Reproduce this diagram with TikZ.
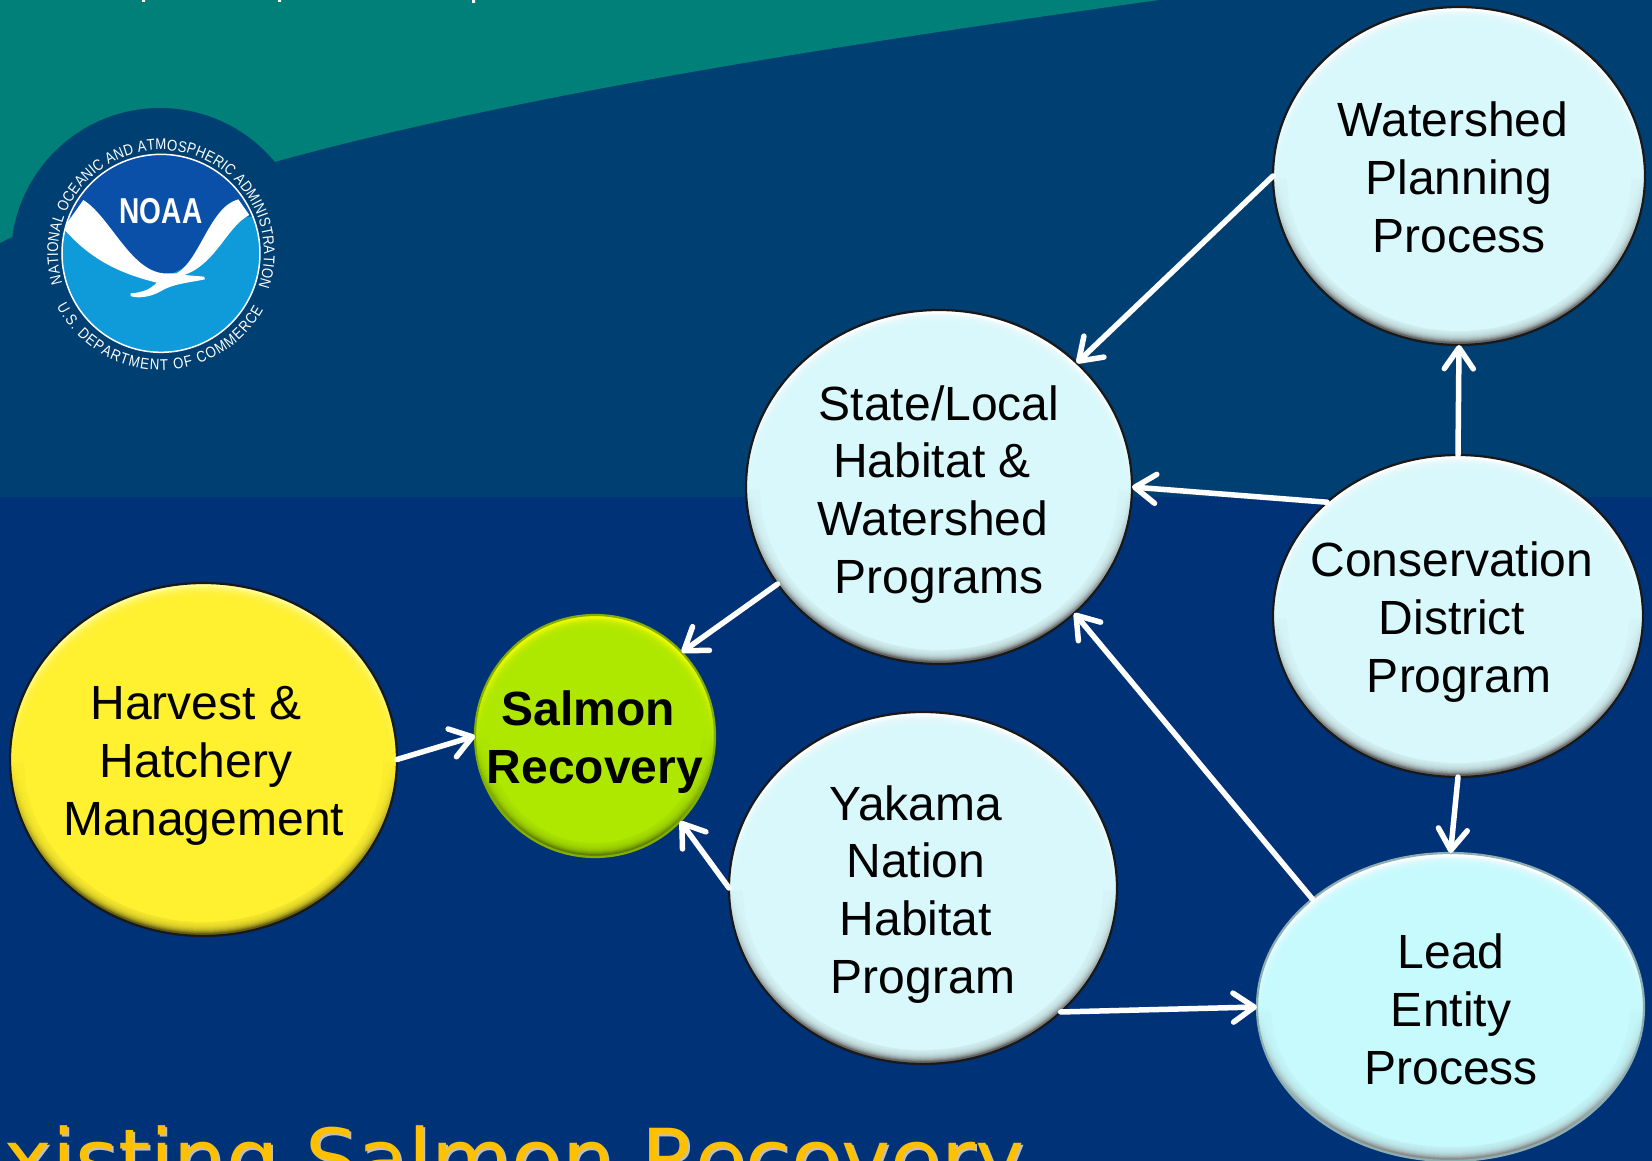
\documentclass[tikz,border=0pt]{standalone}
\usepackage{fontspec}
\setmainfont{Liberation Sans}
\newfontfamily\titlefont{DejaVu Sans}
\newfontfamily\logoface[FakeStretch=0.85]{Liberation Sans}
\usetikzlibrary{shapes.geometric,arrows.meta,decorations.text}
\definecolor{teal0}{HTML}{008078}
\definecolor{navytop}{HTML}{003F72}
\definecolor{navylow}{HTML}{003278}
\definecolor{cyanbase}{HTML}{D9F8FB}
\definecolor{leadbase}{HTML}{C6FAFD}
\definecolor{yellowbase}{HTML}{FFF030}
\definecolor{greenbase}{HTML}{AEE800}
\definecolor{goldtitle}{HTML}{FFC000}
\definecolor{logodark}{HTML}{0A4FA8}
\definecolor{logolight}{HTML}{0F9ADA}
\newcommand\nudge[2]{\mbox{\ifdim#1>0pt\kern\dimexpr#1*2\relax\fi #2\ifdim#1<0pt\kern\dimexpr#1*-2\relax\fi}}
\newcommand\logofont{\logoface\fontsize{15.5}{16}\selectfont}
% name, cx, cy, rx, ry, base, rim top, rim bottom, outline
\newcommand\bubble[9]{%
  \pgfdeclareverticalshading{rim#1}{100bp}{color(0bp)=(#8); color(28bp)=(#8);
     color(50bp)=(#6); color(68bp)=(#7); color(100bp)=(#7)}%
  \node[bubblenode,minimum width=#4*2pt,minimum height=#5*2pt,
        shading=rim#1,draw=#9] (#1) at (#2,#3) {};
  \foreach \i in {3,...,13}{
    \fill[#6,opacity=.22] (#1.center) ellipse [x radius={(#4-\i)*1pt},y radius={(#5-\i)*1pt}];
  }
  \fill[#6] (#1.center) ellipse [x radius={(#4-14)*1pt},y radius={(#5-14)*1pt}];
}
\tikzset{
  bubblenode/.style={ellipse,inner sep=0pt,outer sep=0pt,line width=2.2pt},
  bubbletext/.style={anchor=base,align=center,inner sep=0pt,outer sep=0pt,text=black,
     font=\fontsize{48}{57.6}\selectfont},
  flow/.style={draw=white,line width=5.5pt,line cap=round,
     -{Straight Barb[length=21pt,width=29pt,line width=5.5pt,round]}},
  titletext/.style={anchor=base west,inner sep=0pt,font=\titlefont\fontsize{82.7}{86}\selectfont},
}
\begin{document}
\begin{tikzpicture}[x=1pt,y=-1pt]
\useasboundingbox (0,0) rectangle (1652,1161);
\clip (0,0) rectangle (1652,1161);
% background bands
\fill[navytop] (0,0) rectangle (1652,497);
\fill[navylow] (0,497) rectangle (1652,1161);
\fill[teal0] (0,0) -- (1159,0) .. controls (800,50) and (500,100) .. (278,161) -- (10,238) -- (0,243) -- cycle;
\fill[white] (142,0) rectangle (145,2) (278,0) rectangle (281,2) (472,0) rectangle (475,3);
% logo
\fill[navytop] (160,257) circle [radius=149pt];
\begin{scope}[x=0.33333pt,y=-0.33333pt]
  \fill[logolight] (483,760) circle [radius=297*0.33333pt];
  \begin{scope}
    \clip (483,760) circle [radius=297*0.33333pt];
    \fill[logodark] (150,400) rectangle (820,650)
      (150,650) -- (230,650) .. controls (330,700) and (400,820) .. (500,825)
      .. controls (600,800) and (640,680) .. (730,620) -- (820,620) -- (820,400) -- (150,400) -- cycle;
    \fill[white] (250,600) .. controls (330,650) and (390,810) .. (490,820)
      -- (530,820) .. controls (600,780) and (630,620) .. (715,598)
      -- (748,645) .. controls (680,680) and (650,790) .. (553,825)
      -- (612,830) -- (615,838) .. controls (570,848) and (520,850) .. (480,875)
      .. controls (450,892) and (410,896) .. (392,888) -- (392,880)
      .. controls (430,878) and (455,865) .. (470,848)
      .. controls (380,825) and (280,790) .. (190,685) -- cycle;
  \end{scope}
  \draw[white,line width=1.5pt] (483,760) circle [radius=297*0.33333pt];
  \node[text=white,inner sep=0pt,font=\bfseries\fontsize{36}{36}\selectfont] (noaa) at (483,634) {\scalebox{.78}[1]{NOAA}};
\end{scope}
\begin{scope}[shift={(161,253)},x=1pt,y=1pt]
  \path[decorate,decoration={text along path,text align={fit to path},
    text={|\logofont\color{white}|NATIONAL OCEANIC AND ATMOSPHERIC ADMINISTRATION}}]
    (197:103pt) arc [start angle=197,end angle=-19,radius=103pt];
  \path[decorate,decoration={text along path,text align={fit to path},
    text={|\logofont\color{white}|U.S. DEPARTMENT OF COMMERCE}}]
    (207:117pt) arc [start angle=207,end angle=331,radius=117pt];
\end{scope}
% bubbles
\bubble{watershed}{1459}{176}{186}{169}{cyanbase}{white}{black!60}{black!90}
\bubble{state}{939}{487}{193}{177}{cyanbase}{white}{black!60}{black!90}
\bubble{conservation}{1458}{616}{185}{161}{cyanbase}{white}{black!60}{black!90}
\bubble{lead}{1450.5}{1007}{193.5}{154}{leadbase}{white}{black!45}{black!30!leadbase}
\bubble{yakama}{923}{888}{194}{176}{cyanbase}{white}{black!60}{black!90}
\bubble{salmon}{595}{736}{120}{121}{greenbase}{yellow!80!greenbase}{black!45!greenbase}{black!25!greenbase}
\bubble{harvest}{203.5}{759.5}{193.5}{176.5}{yellowbase}{yellow!40!white}{black!60!yellowbase}{black!90}
% labels
\node[bubbletext] (watershedtext) at (1457,252) {\nudge{-4pt}{Watershed}\\\nudge{2pt}{Planning}\\\nudge{2pt}{Process}};
\node[bubbletext] (statetext) at (936,593) {\nudge{3pt}{State/Local}\\\nudge{-4pt}{Habitat \&}\\\nudge{-3pt}{Watershed}\\\nudge{3pt}{Programs}};
\node[bubbletext] (conservationtext) at (1454,692) {\nudge{-2pt}{Conservation}\\\nudge{-2pt}{District}\\\nudge{5pt}{Program}};
\node[bubbletext] (leadtext) at (1451,1084) {Lead\\Entity\\Process};
\node[bubbletext] (yakamatext) at (918,993) {\nudge{-2pt}{Yakama}\\\nudge{-2pt}{Nation}\\\nudge{-2pt}{Habitat}\\\nudge{5pt}{Program}};
\node[bubbletext,font=\bfseries\fontsize{48}{58}\selectfont] (salmontext) at (592,783) {\nudge{-4pt}{Salmon}\\\nudge{3pt}{Recovery}};
\node[bubbletext] (harvesttext) at (200,835) {\nudge{-4pt}{Harvest \&}\\\nudge{-4pt}{Hatchery}\\\nudge{4pt}{Management}};
% connectors
\draw[flow] (watershed.180) -- (state.42);
\draw[flow] (conservation.90) -- (watershed.270);
\draw[flow] (conservation.139) -- (state.0);
\draw[flow] (conservation.270) -- (lead.90);
\draw[flow] (lead.142) -- (state.317);
\draw[flow] (yakama.318) -- (lead.180);
\draw[flow] (yakama.180) -- (salmon.315);
\draw[flow] (state.211) -- (salmon.44);
\draw[flow] (harvest.0) -- (salmon.180);
% title
\node[titletext,text=black!25] (titleshadow) at (-47,1190) {Existing Salmon Recovery};
\node[titletext,text=goldtitle] (titlemain) at (-49,1188) {Existing Salmon Recovery};
\end{tikzpicture}
\end{document}
